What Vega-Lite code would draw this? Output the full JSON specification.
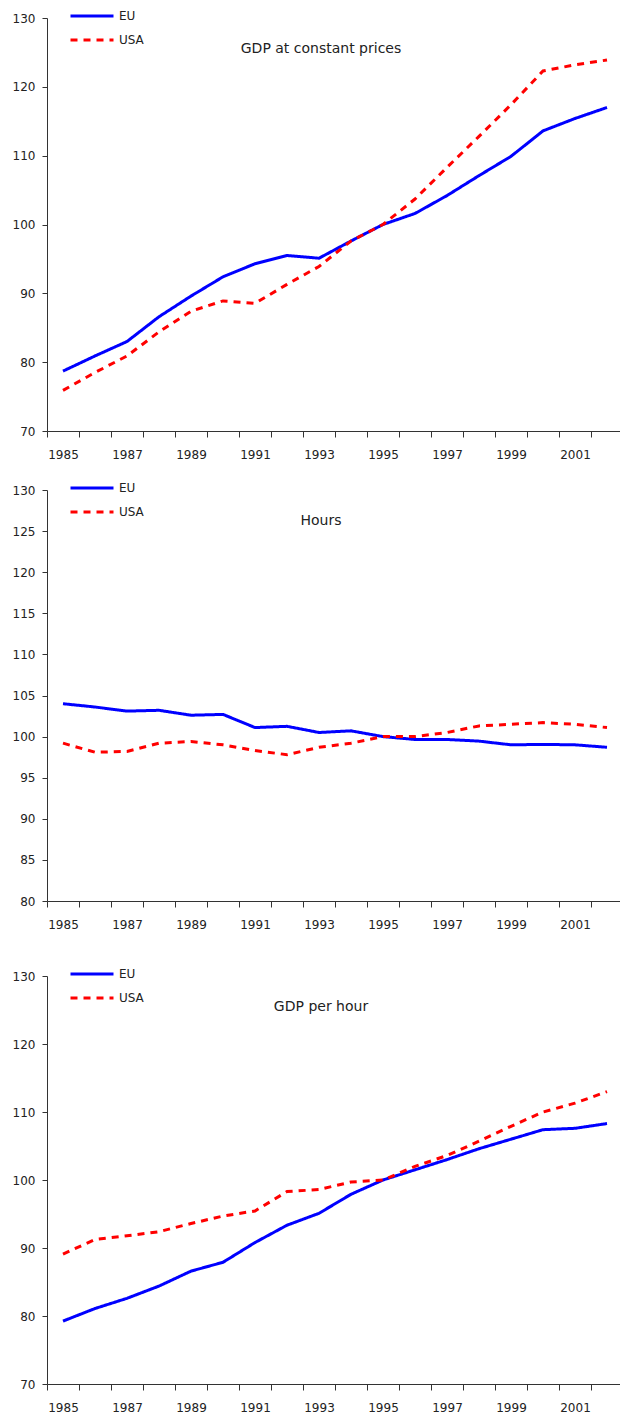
{
  "$schema": "https://vega.github.io/schema/vega-lite/v6.json",
  "padding": {"left": 12, "top": 6, "right": 0, "bottom": 0},
  "background": "white",
  "config": {
    "view": {"stroke": null},
    "axis": {"domainColor": "#333", "tickColor": "#333", "labelColor": "#222", "grid": false, "labelFont": "DejaVu Sans", "labelFontSize": 12, "title": null},
    "legend": {"orient": "none", "legendX": 22, "legendY": -12, "symbolType": "stroke", "symbolSize": 1849, "symbolStrokeWidth": 3, "labelFontSize": 12, "labelFont": "DejaVu Sans", "labelColor": "#222", "clipHeight": 20, "rowPadding": 4, "labelOffset": 4, "padding": 0},
    "title": {"font": "DejaVu Sans", "fontSize": 14, "fontWeight": "normal", "color": "#222", "anchor": "middle", "orient": "top", "offset": -50, "dx": -14, "baseline": "middle"}
  },
  "datasets": {
    "gdp": [
      {"year": 1985, "country": "EU", "value": 78.7}, {"year": 1986, "country": "EU", "value": 80.9}, {"year": 1987, "country": "EU", "value": 83.0}, {"year": 1988, "country": "EU", "value": 86.6}, {"year": 1989, "country": "EU", "value": 89.6}, {"year": 1990, "country": "EU", "value": 92.4}, {"year": 1991, "country": "EU", "value": 94.3}, {"year": 1992, "country": "EU", "value": 95.5}, {"year": 1993, "country": "EU", "value": 95.1}, {"year": 1994, "country": "EU", "value": 97.6}, {"year": 1995, "country": "EU", "value": 100.0}, {"year": 1996, "country": "EU", "value": 101.6}, {"year": 1997, "country": "EU", "value": 104.2}, {"year": 1998, "country": "EU", "value": 107.1}, {"year": 1999, "country": "EU", "value": 109.9}, {"year": 2000, "country": "EU", "value": 113.6}, {"year": 2001, "country": "EU", "value": 115.4}, {"year": 2002, "country": "EU", "value": 117.0},
      {"year": 1985, "country": "USA", "value": 75.9}, {"year": 1986, "country": "USA", "value": 78.5}, {"year": 1987, "country": "USA", "value": 80.9}, {"year": 1988, "country": "USA", "value": 84.4}, {"year": 1989, "country": "USA", "value": 87.4}, {"year": 1990, "country": "USA", "value": 88.9}, {"year": 1991, "country": "USA", "value": 88.55}, {"year": 1992, "country": "USA", "value": 91.3}, {"year": 1993, "country": "USA", "value": 93.9}, {"year": 1994, "country": "USA", "value": 97.6}, {"year": 1995, "country": "USA", "value": 100.0}, {"year": 1996, "country": "USA", "value": 103.7}, {"year": 1997, "country": "USA", "value": 108.3}, {"year": 1998, "country": "USA", "value": 112.8}, {"year": 1999, "country": "USA", "value": 117.4}, {"year": 2000, "country": "USA", "value": 122.3}, {"year": 2001, "country": "USA", "value": 123.2}, {"year": 2002, "country": "USA", "value": 123.9}
    ],
    "hours": [
      {"year": 1985, "country": "EU", "value": 104.0}, {"year": 1986, "country": "EU", "value": 103.6}, {"year": 1987, "country": "EU", "value": 103.1}, {"year": 1988, "country": "EU", "value": 103.2}, {"year": 1989, "country": "EU", "value": 102.6}, {"year": 1990, "country": "EU", "value": 102.7}, {"year": 1991, "country": "EU", "value": 101.1}, {"year": 1992, "country": "EU", "value": 101.25}, {"year": 1993, "country": "EU", "value": 100.5}, {"year": 1994, "country": "EU", "value": 100.7}, {"year": 1995, "country": "EU", "value": 100.0}, {"year": 1996, "country": "EU", "value": 99.65}, {"year": 1997, "country": "EU", "value": 99.65}, {"year": 1998, "country": "EU", "value": 99.45}, {"year": 1999, "country": "EU", "value": 99.0}, {"year": 2000, "country": "EU", "value": 99.05}, {"year": 2001, "country": "EU", "value": 99.0}, {"year": 2002, "country": "EU", "value": 98.7},
      {"year": 1985, "country": "USA", "value": 99.2}, {"year": 1986, "country": "USA", "value": 98.1}, {"year": 1987, "country": "USA", "value": 98.2}, {"year": 1988, "country": "USA", "value": 99.2}, {"year": 1989, "country": "USA", "value": 99.4}, {"year": 1990, "country": "USA", "value": 99.0}, {"year": 1991, "country": "USA", "value": 98.3}, {"year": 1992, "country": "USA", "value": 97.8}, {"year": 1993, "country": "USA", "value": 98.7}, {"year": 1994, "country": "USA", "value": 99.2}, {"year": 1995, "country": "USA", "value": 100.0}, {"year": 1996, "country": "USA", "value": 100.0}, {"year": 1997, "country": "USA", "value": 100.5}, {"year": 1998, "country": "USA", "value": 101.3}, {"year": 1999, "country": "USA", "value": 101.5}, {"year": 2000, "country": "USA", "value": 101.7}, {"year": 2001, "country": "USA", "value": 101.5}, {"year": 2002, "country": "USA", "value": 101.1}
    ],
    "gdph": [
      {"year": 1985, "country": "EU", "value": 79.25}, {"year": 1986, "country": "EU", "value": 81.1}, {"year": 1987, "country": "EU", "value": 82.6}, {"year": 1988, "country": "EU", "value": 84.4}, {"year": 1989, "country": "EU", "value": 86.6}, {"year": 1990, "country": "EU", "value": 87.9}, {"year": 1991, "country": "EU", "value": 90.8}, {"year": 1992, "country": "EU", "value": 93.35}, {"year": 1993, "country": "EU", "value": 95.1}, {"year": 1994, "country": "EU", "value": 97.9}, {"year": 1995, "country": "EU", "value": 100.0}, {"year": 1996, "country": "EU", "value": 101.5}, {"year": 1997, "country": "EU", "value": 103.0}, {"year": 1998, "country": "EU", "value": 104.6}, {"year": 1999, "country": "EU", "value": 106.0}, {"year": 2000, "country": "EU", "value": 107.4}, {"year": 2001, "country": "EU", "value": 107.6}, {"year": 2002, "country": "EU", "value": 108.3},
      {"year": 1985, "country": "USA", "value": 89.1}, {"year": 1986, "country": "USA", "value": 91.25}, {"year": 1987, "country": "USA", "value": 91.8}, {"year": 1988, "country": "USA", "value": 92.4}, {"year": 1989, "country": "USA", "value": 93.6}, {"year": 1990, "country": "USA", "value": 94.7}, {"year": 1991, "country": "USA", "value": 95.45}, {"year": 1992, "country": "USA", "value": 98.3}, {"year": 1993, "country": "USA", "value": 98.6}, {"year": 1994, "country": "USA", "value": 99.7}, {"year": 1995, "country": "USA", "value": 100.0}, {"year": 1996, "country": "USA", "value": 102.0}, {"year": 1997, "country": "USA", "value": 103.6}, {"year": 1998, "country": "USA", "value": 105.7}, {"year": 1999, "country": "USA", "value": 107.9}, {"year": 2000, "country": "USA", "value": 110.0}, {"year": 2001, "country": "USA", "value": 111.3}, {"year": 2002, "country": "USA", "value": 113.0}
    ]
  },
  "bounds": "flush",
  "spacing": 59,
  "resolve": {"scale": {"color": "independent", "strokeDash": "independent", "y": "independent"}, "legend": {"color": "independent", "strokeDash": "independent"}},
  "vconcat": [
    {
      "width": 576, "height": 413,
      "title": {"text": "GDP at constant prices"},
      "data": {"name": "gdp"},
      "mark": {"type": "line", "strokeWidth": 3},
      "encoding": {
        "x": {"field": "year", "type": "quantitative", "scale": {"domain": [1984.5, 2002.5], "nice": false, "zero": false},
          "axis": {"values": [1984.5, 1985, 1985.5, 1986.5, 1987, 1987.5, 1988.5, 1989, 1989.5, 1990.5, 1991, 1991.5, 1992.5, 1993, 1993.5, 1994.5, 1995, 1995.5, 1996.5, 1997, 1997.5, 1998.5, 1999, 1999.5, 2000.5, 2001, 2001.5, 2002.5],
            "labelExpr": "datum.value % 1 === 0 ? format(datum.value, 'd') : ''", "tickOpacity": {"condition": {"test": "datum.value % 1 === 0", "value": 0}, "value": 1}, "tickSize": 6, "labelPadding": 12, "labelOverlap": false, "labelFlush": false, "labelBound": false}},
        "y": {"field": "value", "type": "quantitative", "scale": {"domain": [70, 130], "nice": false, "zero": false}, "axis": {"values": [70, 80, 90, 100, 110, 120, 130], "tickSize": 5, "labelPadding": 7}},
        "color": {"field": "country", "type": "nominal", "scale": {"domain": ["EU", "USA"], "range": ["#0000ff", "#ff0000"]}, "legend": {"title": null}},
        "strokeDash": {"field": "country", "type": "nominal", "scale": {"domain": ["EU", "USA"], "range": [[1, 0], [7, 6]]}, "legend": {"title": null}}
      }
    },
    {
      "bounds": "flush",
      "spacing": 75,
      "resolve": {"scale": {"color": "independent", "strokeDash": "independent", "y": "independent"}, "legend": {"color": "independent", "strokeDash": "independent"}},
      "vconcat": [
        {
          "width": 576, "height": 411,
          "title": {"text": "Hours"},
          "data": {"name": "hours"},
          "mark": {"type": "line", "strokeWidth": 3},
          "encoding": {
            "x": {"field": "year", "type": "quantitative", "scale": {"domain": [1984.5, 2002.5], "nice": false, "zero": false},
              "axis": {"values": [1984.5, 1985, 1985.5, 1986.5, 1987, 1987.5, 1988.5, 1989, 1989.5, 1990.5, 1991, 1991.5, 1992.5, 1993, 1993.5, 1994.5, 1995, 1995.5, 1996.5, 1997, 1997.5, 1998.5, 1999, 1999.5, 2000.5, 2001, 2001.5, 2002.5],
                "labelExpr": "datum.value % 1 === 0 ? format(datum.value, 'd') : ''", "tickOpacity": {"condition": {"test": "datum.value % 1 === 0", "value": 0}, "value": 1}, "tickSize": 6, "labelPadding": 12, "labelOverlap": false, "labelFlush": false, "labelBound": false}},
            "y": {"field": "value", "type": "quantitative", "scale": {"domain": [80, 130], "nice": false, "zero": false}, "axis": {"values": [80, 85, 90, 95, 100, 105, 110, 115, 120, 125, 130], "tickSize": 5, "labelPadding": 7}},
            "color": {"field": "country", "type": "nominal", "scale": {"domain": ["EU", "USA"], "range": ["#0000ff", "#ff0000"]}, "legend": {"title": null}},
            "strokeDash": {"field": "country", "type": "nominal", "scale": {"domain": ["EU", "USA"], "range": [[1, 0], [7, 6]]}, "legend": {"title": null}}
          }
        },
        {
          "width": 576, "height": 408,
          "title": {"text": "GDP per hour"},
          "data": {"name": "gdph"},
          "mark": {"type": "line", "strokeWidth": 3},
          "encoding": {
            "x": {"field": "year", "type": "quantitative", "scale": {"domain": [1984.5, 2002.5], "nice": false, "zero": false},
              "axis": {"values": [1984.5, 1985, 1985.5, 1986.5, 1987, 1987.5, 1988.5, 1989, 1989.5, 1990.5, 1991, 1991.5, 1992.5, 1993, 1993.5, 1994.5, 1995, 1995.5, 1996.5, 1997, 1997.5, 1998.5, 1999, 1999.5, 2000.5, 2001, 2001.5, 2002.5],
                "labelExpr": "datum.value % 1 === 0 ? format(datum.value, 'd') : ''", "tickOpacity": {"condition": {"test": "datum.value % 1 === 0", "value": 0}, "value": 1}, "tickSize": 6, "labelPadding": 12, "labelOverlap": false, "labelFlush": false, "labelBound": false}},
            "y": {"field": "value", "type": "quantitative", "scale": {"domain": [70, 130], "nice": false, "zero": false}, "axis": {"values": [70, 80, 90, 100, 110, 120, 130], "tickSize": 5, "labelPadding": 7}},
            "color": {"field": "country", "type": "nominal", "scale": {"domain": ["EU", "USA"], "range": ["#0000ff", "#ff0000"]}, "legend": {"title": null}},
            "strokeDash": {"field": "country", "type": "nominal", "scale": {"domain": ["EU", "USA"], "range": [[1, 0], [7, 6]]}, "legend": {"title": null}}
          }
        }
      ]
    }
  ]
}
